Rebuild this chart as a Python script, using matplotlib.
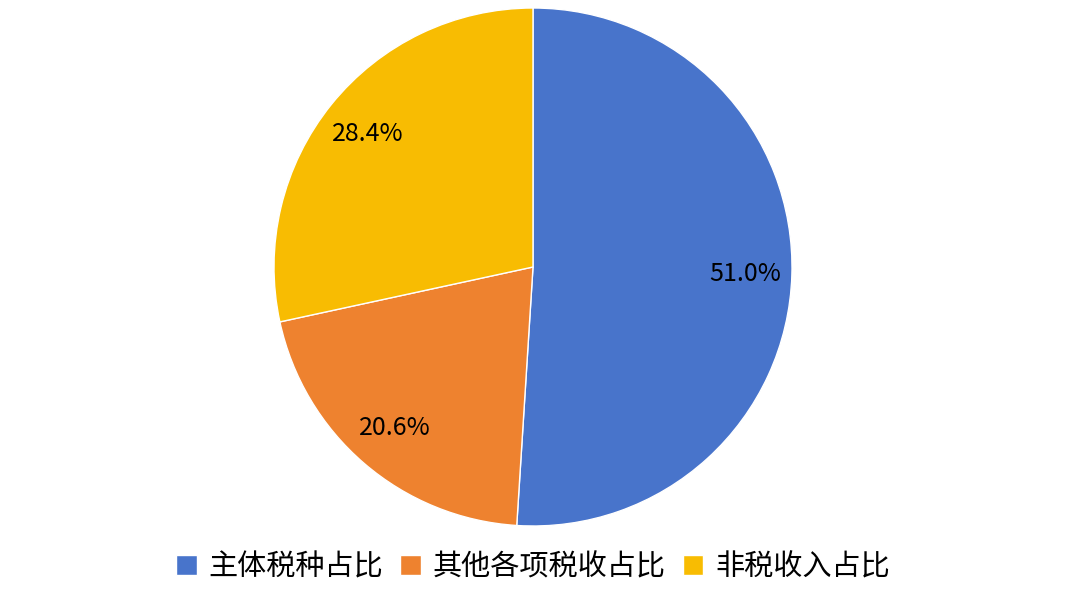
import matplotlib
matplotlib.use("Agg")
import matplotlib.pyplot as plt

plt.rcParams["font.family"] = ["Noto Sans CJK SC", "DejaVu Sans"]

labels = ["主体税种占比", "其他各项税收占比", "非税收入占比"]
shares = [51.0, 20.6, 28.4]
colors = ["#4874CB", "#EE822F", "#F8BC02"]

fig = plt.figure(figsize=(10.8, 5.91), dpi=100)
ax = fig.add_axes([274 / 1080, 65 / 591, 518 / 1080, 518 / 591])

wedges, texts, autotexts = ax.pie(
    shares,
    colors=colors,
    startangle=90,
    counterclock=False,
    autopct="%.1f%%",
    pctdistance=0.82,
    wedgeprops=dict(edgecolor="white", linewidth=1),
    textprops=dict(fontsize=18, color="black"),
)
ax.set_aspect("equal")
ax.set_xlim(-1, 1)
ax.set_ylim(-1, 1)

fig.legend(
    wedges, labels,
    loc="center", bbox_to_anchor=(533 / 1080, 1 - 567 / 591),
    ncol=3, frameon=False, fontsize=21,
    handlelength=0.7, handleheight=0.7, handletextpad=0.4, columnspacing=0.6,
)

fig.savefig("out.png", dpi=100)
